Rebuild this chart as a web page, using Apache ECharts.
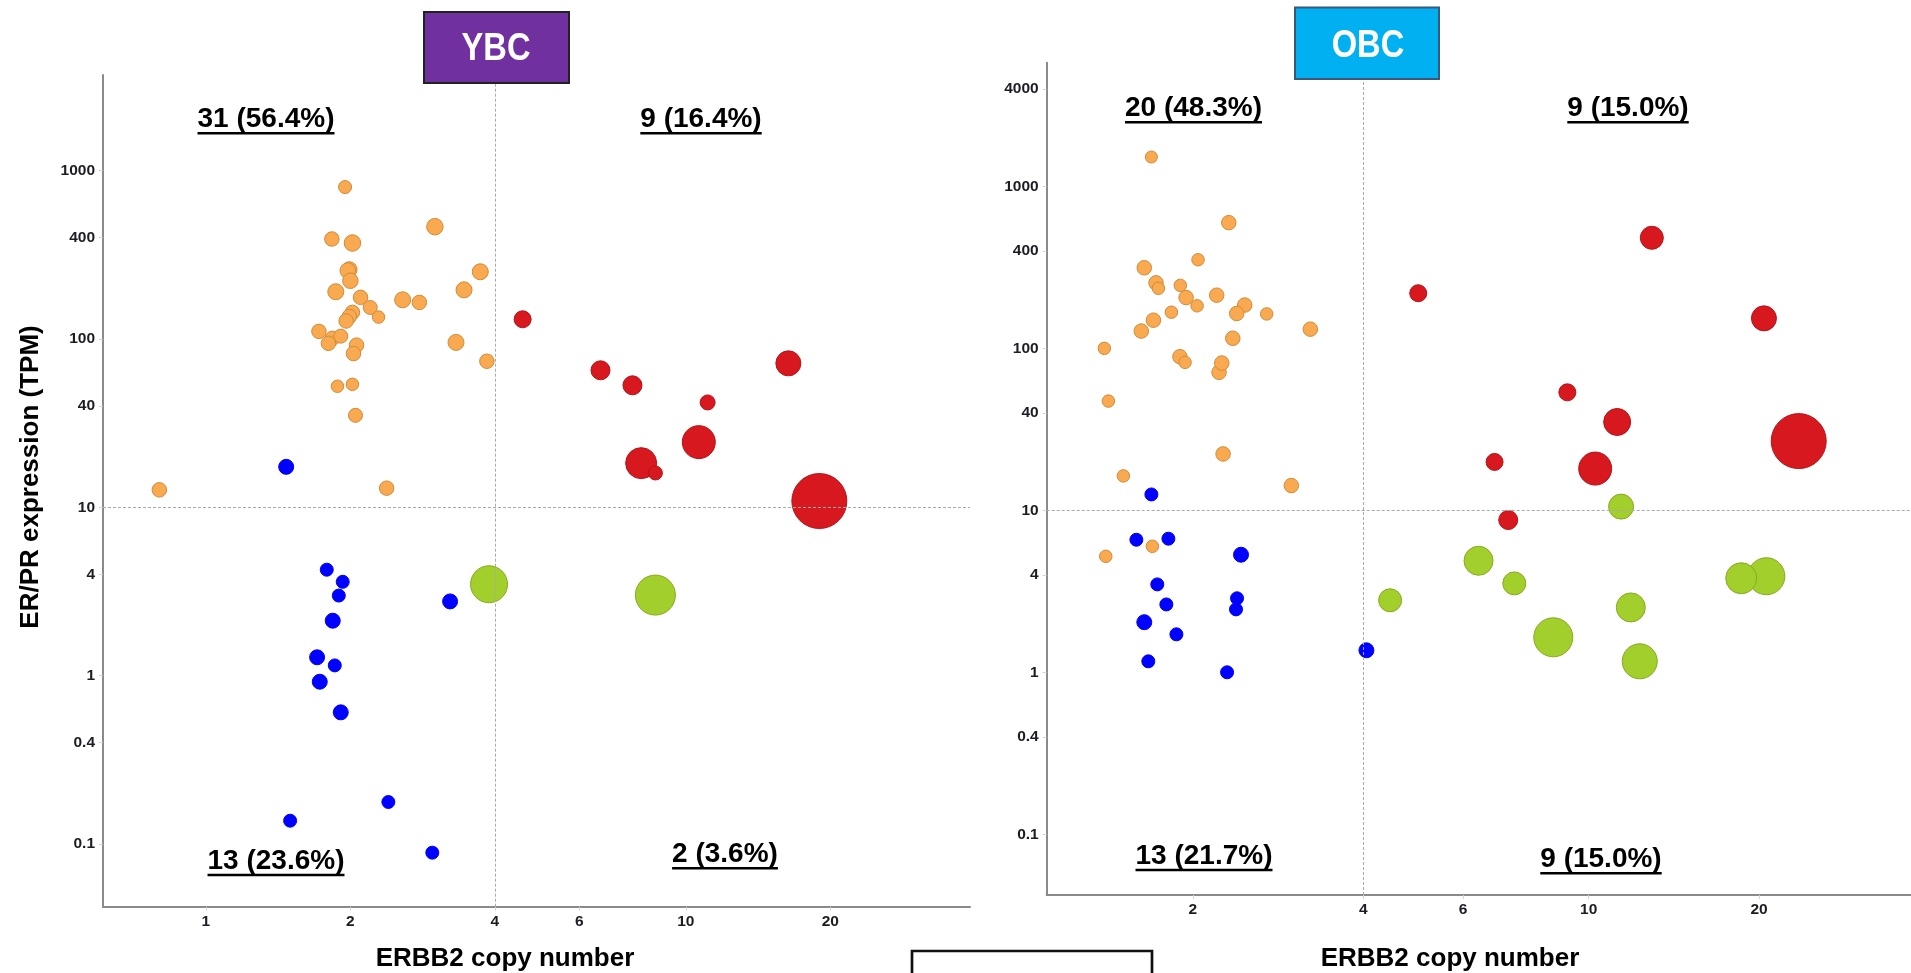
<!DOCTYPE html>
<html>
<head>
<meta charset="utf-8">
<script src="https://cdn.jsdelivr.net/npm/echarts@6/dist/echarts.min.js"></script>
<style>
  html, body { margin: 0; padding: 0; background: #ffffff; }
  #chart { width: 1911px; height: 973px; }
</style>
</head>
<body>
<div id="chart"></div>
<script>
// ---------------- data ----------------
const panelTitles = ['YBC', 'OBC'];
const xTitle = 'ERBB2 copy number';
const yTitle = 'ER/PR expression (TPM)';

// tick values shown on the log axes
const xTicks = [1, 2, 4, 6, 10, 20];
const yTicks = [0.1, 0.4, 1, 4, 10, 40, 100, 400, 1000, 4000];

// quadrant cut-offs
const cutoffCopyNumber = 4;
const cutoffExpression = 10;

// quadrant counts: [upper-left, upper-right, lower-left, lower-right]
const ybcQuadrantLabels = ['31 (56.4%)', '9 (16.4%)', '13 (23.6%)', '2 (3.6%)'];
const obcQuadrantLabels = ['20 (48.3%)', '9 (15.0%)', '13 (21.7%)', '9 (15.0%)'];

// each point: [ERBB2 copy number, ER/PR TPM, bubble weight]
const ybcHrPos = [
  [1.95, 800, 2.6], [1.83, 393, 2.9], [2.02, 372, 3.3], [3.00, 465, 3.3],
  [1.99, 259, 3.1], [1.975, 255, 3.1], [2.00, 222, 3.1], [1.865, 191, 3.2],
  [2.10, 177, 2.9], [2.57, 171, 3.2], [2.785, 165, 2.9], [3.45, 196, 3.2],
  [3.73, 251, 3.2], [2.20, 154, 2.8], [2.29, 135, 2.5], [2.02, 144, 2.9],
  [1.99, 136, 2.9], [1.96, 128, 2.9], [1.72, 111, 2.9], [1.835, 101, 2.9],
  [1.80, 94.3, 2.9], [1.91, 104, 2.8], [2.06, 92, 2.9], [2.03, 82, 2.9],
  [3.32, 95.5, 3.2], [3.85, 73.8, 2.9], [1.88, 52.4, 2.5], [2.02, 53.8, 2.5],
  [2.05, 35.2, 2.8], [0.80, 12.7, 2.9], [2.38, 13.0, 2.9]
];
const ybcTripleNeg = [
  [1.47, 17.4, 3.0], [1.786, 4.26, 2.6], [1.928, 3.61, 2.6], [1.892, 2.99, 2.6],
  [1.838, 2.12, 3.0], [1.705, 1.285, 3.0], [1.856, 1.15, 2.6], [1.727, 0.92, 3.0],
  [1.91, 0.605, 3.0], [2.40, 0.1774, 2.6], [1.498, 0.1374, 2.6], [2.963, 0.0887, 2.6],
  [3.227, 2.76, 3.0]
];
const ybcHer2PosHrPos = [
  [10.64, 24.4, 6.6], [8.07, 18.3, 6.2], [18.97, 10.9, 11], [4.57, 131, 3.4],
  [6.64, 65.2, 3.8], [7.74, 53.1, 3.8], [11.1, 42.0, 3.0], [16.35, 71.7, 5.0],
  [8.64, 16.0, 2.8]
];
const ybcHer2PosHrNeg = [
  [3.89, 3.49, 7.4], [8.64, 3.01, 8.0]
];

const obcHrPos = [
  [1.689, 1525, 2.4], [2.314, 600, 2.9], [2.042, 354, 2.5], [1.641, 316, 2.9],
  [1.721, 255, 2.9], [1.738, 236, 2.5], [1.900, 246, 2.5], [1.945, 207, 2.9],
  [2.203, 214, 2.9], [2.034, 184, 2.5], [2.469, 186, 2.9], [2.390, 165, 2.9],
  [2.700, 164, 2.5], [1.832, 168, 2.5], [1.703, 150, 2.9], [1.621, 128.5, 2.9],
  [3.224, 132, 2.9], [2.352, 116, 2.9], [1.395, 100.5, 2.5], [1.897, 89.3, 2.9],
  [1.937, 82.4, 2.5], [2.224, 71.5, 2.9], [2.249, 81.6, 2.9], [1.418, 47.5, 2.5],
  [2.261, 22.4, 2.9], [1.507, 16.4, 2.5], [2.984, 14.3, 2.9], [1.696, 6.03, 2.5],
  [1.403, 5.23, 2.5]
];
const obcTripleNeg = [
  [1.689, 12.6, 2.6], [1.589, 6.62, 2.6], [1.810, 6.72, 2.6], [2.432, 5.35, 3.0],
  [1.730, 3.51, 2.6], [1.795, 2.64, 2.6], [2.393, 2.88, 2.6], [2.383, 2.46, 2.6],
  [1.641, 2.05, 3.0], [1.870, 1.726, 2.6], [1.668, 1.176, 2.6], [2.298, 1.006, 2.6],
  [4.05, 1.375, 3.0]
];
const obcHer2PosHrPos = [
  [23.5, 26.9, 11], [10.27, 18.2, 6.6], [11.23, 35.3, 5.4], [20.4, 154, 5.0],
  [12.93, 484, 4.6], [5.0, 220, 3.4], [9.17, 53.8, 3.4], [6.82, 20.0, 3.4],
  [7.21, 8.76, 3.8]
];
const obcHer2PosHrNeg = [
  [8.66, 1.654, 7.8], [20.6, 3.94, 7.4], [18.6, 3.83, 6.2], [12.31, 1.176, 7.0],
  [6.39, 4.91, 5.8], [11.87, 2.53, 5.8], [11.41, 10.6, 5.0], [7.39, 3.56, 4.6],
  [4.46, 2.80, 4.6]
];

// ---------------- styling ----------------
const FONT = "'Liberation Sans', Arial, Helvetica, sans-serif";
const BUBBLE_UNIT = 5;
const PALETTE = {
  hrPos:      { fill: '#F9AA50', border: '#D38A38' },
  her2HrPos:  { fill: '#D7181E', border: '#B51318' },
  tripleNeg:  { fill: '#0000FF', border: '#0000FF' },
  her2HrNeg:  { fill: '#A3CF2C', border: '#84AB1E' }
};

const measureCtx = document.createElement('canvas').getContext('2d');
function textWidth(str, font) {
  measureCtx.font = font;
  return measureCtx.measureText(str).width;
}
function tickText(v) { return String(+Number(v).toPrecision(6)); }

function logXAxis(gridIndex, min, max) {
  return {
    type: 'log', logBase: 10, gridIndex, min, max,
    axisLine: { show: true, onZero: false, lineStyle: { color: '#8a8a8a', width: 2 } },
    axisTick: { show: true, length: 4, customValues: xTicks, lineStyle: { color: '#d2d2d2', width: 1 } },
    axisLabel: {
      customValues: xTicks, formatter: tickText, margin: 7,
      fontFamily: FONT, fontWeight: 'bold', fontSize: 15.5, color: '#1c1c24'
    },
    splitLine: { show: false }, minorTick: { show: false }, minorSplitLine: { show: false }
  };
}
function logYAxis(gridIndex, min, max) {
  return {
    type: 'log', logBase: 10, gridIndex, min, max,
    axisLine: { show: true, onZero: false, lineStyle: { color: '#8a8a8a', width: 2 } },
    axisTick: { show: true, length: 4, customValues: yTicks, lineStyle: { color: '#d2d2d2', width: 1 } },
    axisLabel: {
      customValues: yTicks, formatter: tickText, margin: 8,
      fontFamily: FONT, fontWeight: 'bold', fontSize: 15.5, color: '#1c1c24'
    },
    splitLine: { show: false }, minorTick: { show: false }, minorSplitLine: { show: false }
  };
}

function bubbles(name, data, idx, colors) {
  return {
    type: 'scatter', name, data, xAxisIndex: idx, yAxisIndex: idx,
    symbol: 'circle',
    symbolSize: v => v[2] * BUBBLE_UNIT,
    itemStyle: { color: colors.fill, borderColor: colors.border, borderWidth: 1, opacity: 1 },
    emphasis: { disabled: true },
    z: 2
  };
}
function withCutoffs(series) {
  series.markLine = {
    silent: true, symbol: ['none', 'none'], animation: false,
    label: { show: false },
    lineStyle: { type: [3, 2], color: '#a9a9a9', width: 1 },
    emphasis: { disabled: true },
    data: [{ xAxis: cutoffCopyNumber }, { yAxis: cutoffExpression }]
  };
  return series;
}

// ---------------- annotations ----------------
function titleBox(text, box, fill, stroke, cx, cy, squeeze) {
  return [
    { type: 'rect', shape: box, style: { fill, stroke, lineWidth: 2 }, z: 20 },
    {
      type: 'group', x: cx, y: cy, scaleX: squeeze, z: 21,
      children: [{
        type: 'text', x: 0, y: 0, z: 21,
        style: { text, fill: '#ffffff', align: 'center', verticalAlign: 'middle',
                 fontFamily: FONT, fontWeight: 'bold', fontSize: 38 }
      }]
    }
  ];
}
function quadrantLabel(text, cx, baseline) {
  const size = 28;
  const w = textWidth(text, `bold ${size}px ${FONT}`);
  return [
    { type: 'text', x: cx, y: baseline - 0.31 * size, z: 15,
      style: { text, fill: '#000000', align: 'center', verticalAlign: 'middle',
               fontFamily: FONT, fontWeight: 'bold', fontSize: size } },
    { type: 'line', z: 15,
      shape: { x1: cx - w / 2, y1: baseline + 5, x2: cx + w / 2, y2: baseline + 5 },
      style: { stroke: '#000000', lineWidth: 2.5 } }
  ];
}
function axisTitle(text, x, y, rotation) {
  return { type: 'text', x, y, rotation, z: 15,
    style: { text, fill: '#000000', align: 'center', verticalAlign: 'middle',
             fontFamily: FONT, fontWeight: 'bold', fontSize: 26 } };
}

const graphic = [].concat(
  titleBox(panelTitles[0], { x: 424, y: 12, width: 145, height: 71 }, '#7030A0', '#222222', 496, 50, 0.86),
  titleBox(panelTitles[1], { x: 1295, y: 7.5, width: 144, height: 71.5 }, '#00B0F0', '#39587C', 1368, 46.8, 0.86),
  quadrantLabel(ybcQuadrantLabels[0], 266, 128.3),
  quadrantLabel(ybcQuadrantLabels[1], 701, 128.3),
  quadrantLabel(ybcQuadrantLabels[2], 276, 870),
  quadrantLabel(ybcQuadrantLabels[3], 725, 863.3),
  quadrantLabel(obcQuadrantLabels[0], 1193.5, 117.3),
  quadrantLabel(obcQuadrantLabels[1], 1628, 117.3),
  quadrantLabel(obcQuadrantLabels[2], 1204, 865),
  quadrantLabel(obcQuadrantLabels[3], 1601, 868.3),
  [
    axisTitle(xTitle, 505, 958.8, 0),
    axisTitle(xTitle, 1450, 958.8, 0),
    axisTitle(yTitle, 30.4, 477, Math.PI / 2),
    { type: 'rect', z: 15, shape: { x: 912, y: 951, width: 240, height: 40 },
      style: { fill: 'none', stroke: '#111111', lineWidth: 2.7 } }
  ]
);

// ---------------- chart ----------------
const chart = echarts.init(document.getElementById('chart'), null, { renderer: 'canvas' });
chart.setOption({
  animation: false,
  backgroundColor: '#ffffff',
  grid: [
    { left: 103, top: 75, width: 867, height: 831.7, containLabel: false, outerBoundsMode: 'none' },
    { left: 1046.7, top: 62.7, width: 864.3, height: 832.3, containLabel: false, outerBoundsMode: 'none' }
  ],
  xAxis: [logXAxis(0, 0.6105, 39.08), logXAxis(1, 1.1034, 37.1)],
  yAxis: [logYAxis(0, 0.04235, 3706), logYAxis(1, 0.04245, 5828)],
  series: [
    bubbles('YBC HR+/HER2-', ybcHrPos, 0, PALETTE.hrPos),
    bubbles('YBC HR-/HER2-', ybcTripleNeg, 0, PALETTE.tripleNeg),
    bubbles('YBC HR+/HER2+', ybcHer2PosHrPos, 0, PALETTE.her2HrPos),
    withCutoffs(bubbles('YBC HR-/HER2+', ybcHer2PosHrNeg, 0, PALETTE.her2HrNeg)),
    bubbles('OBC HR+/HER2-', obcHrPos, 1, PALETTE.hrPos),
    bubbles('OBC HR-/HER2-', obcTripleNeg, 1, PALETTE.tripleNeg),
    bubbles('OBC HR+/HER2+', obcHer2PosHrPos, 1, PALETTE.her2HrPos),
    withCutoffs(bubbles('OBC HR-/HER2+', obcHer2PosHrNeg, 1, PALETTE.her2HrNeg))
  ],
  graphic
});
</script>
</body>
</html>
